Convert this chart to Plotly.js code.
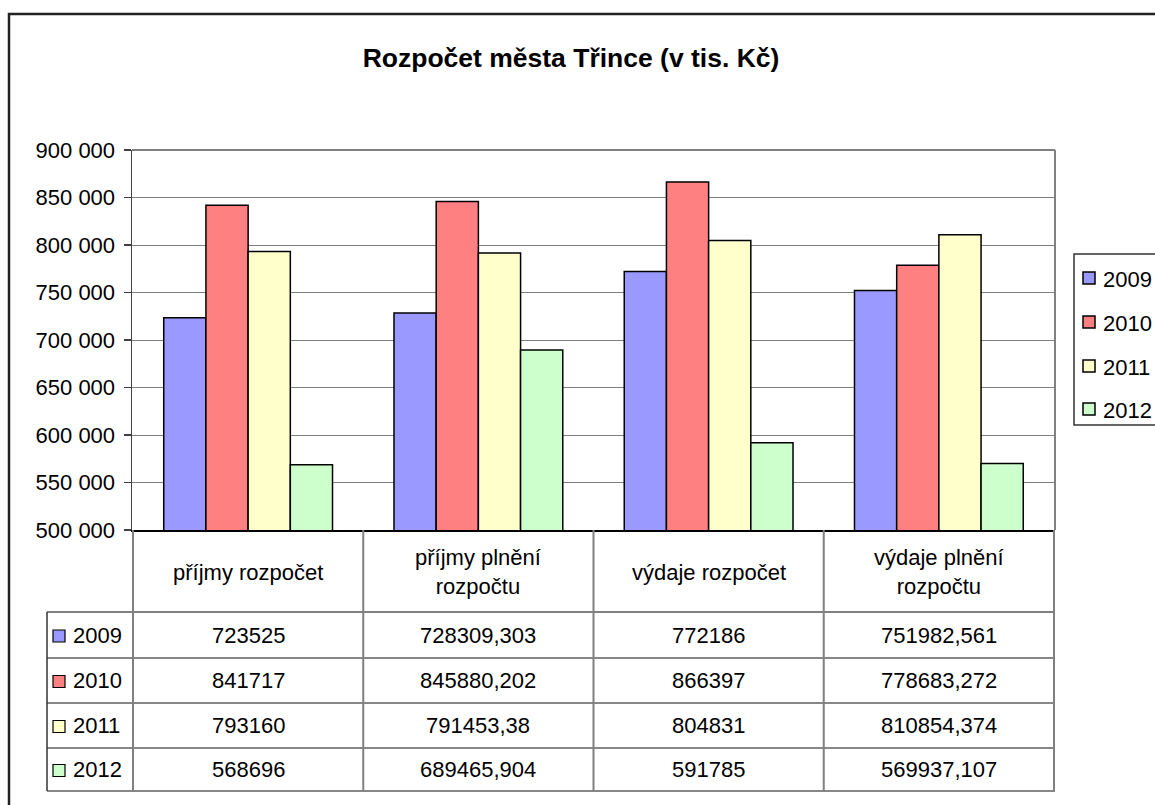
<!DOCTYPE html>
<html>
<head>
<meta charset="utf-8">
<script src="https://cdn.plot.ly/plotly-3.0.1.min.js"></script>
<style>html,body{margin:0;padding:0;background:#fff;}#chart{width:1155px;height:805px;}</style>
</head>
<body>
<div id="chart"></div>
<script>
// ---- data ----
const categories = ['příjmy rozpočet', 'příjmy plnění rozpočtu', 'výdaje rozpočet', 'výdaje plnění rozpočtu'];
const categoryLabels = ['příjmy rozpočet', 'příjmy plnění<br>rozpočtu', 'výdaje rozpočet', 'výdaje plnění<br>rozpočtu'];
const years = ['2009', '2010', '2011', '2012'];
const values2009 = [723525, 728309.303, 772186, 751982.561];
const values2010 = [841717, 845880.202, 866397, 778683.272];
const values2011 = [793160, 791453.38, 804831, 810854.374];
const values2012 = [568696, 689465.904, 591785, 569937.107];
const seriesValues = [values2009, values2010, values2011, values2012];
const seriesColors = ['#9999FF', '#FF8080', '#FFFFCC', '#CCFFCC'];

// ---- layout helpers (pixel -> paper) ----
const L = 132, T = 150, W = 923, H = 380;
const PX = x => (x - L) / W;
const PY = y => (T + H - y) / H;
const FONT = 'Liberation Sans, Arial, sans-serif';
const FS = 22;
const fmt = v => String(v).replace('.', ',');

const traces = seriesValues.map((vals, i) => ({
  type: 'bar',
  name: years[i],
  x: categories,
  y: vals,
  marker: {color: seriesColors[i], line: {color: '#000', width: 1.5}},
  hoverinfo: 'y+name'
}));

const shapes = [];
const annotations = [];
// outer chart border
shapes.push({type: 'rect', xref: 'paper', yref: 'paper', x0: PX(9), x1: PX(1175), y0: PY(830), y1: PY(14),
  line: {color: '#222', width: 2.5}, layer: 'below'});
// plot area top & right border
shapes.push({type: 'line', xref: 'paper', yref: 'paper', x0: 0, x1: 1, y0: 1, y1: 1, line: {color: '#808080', width: 2}});
shapes.push({type: 'line', xref: 'paper', yref: 'paper', x0: 1, x1: 1, y0: 0, y1: 1, line: {color: '#808080', width: 2}});

// table row boundaries
const rowLines = [612, 658, 703, 748, 791];
const rowCenters = [635, 680.5, 725.5, 769.5];
rowLines.forEach((y, i) => {
  shapes.push({type: 'line', xref: 'paper', yref: 'paper', x0: PX(47), x1: 1, y0: PY(y), y1: PY(y),
    line: {color: i === 0 ? '#808080' : '#111', width: i === 0 ? 2 : 1.2}});
});
// left column border
shapes.push({type: 'line', xref: 'paper', yref: 'paper', x0: PX(47), x1: PX(47), y0: PY(612), y1: PY(791), line: {color: '#333', width: 1.5}});
// column separators at category boundaries
for (let k = 0; k <= categories.length; k++) {
  shapes.push({type: 'line', xref: 'x', yref: 'paper', x0: k - 0.5, x1: k - 0.5, y0: PY(791), y1: 0,
    line: {color: '#808080', width: 2}});
}
// category header texts
categories.forEach((c, k) => {
  annotations.push({xref: 'x', yref: 'paper', x: k, y: PY(572), text: categoryLabels[k], showarrow: false,
    xanchor: 'center', yanchor: 'middle', font: {family: FONT, size: FS, color: '#000'}});
});
// rows: legend key, year, values
years.forEach((yr, i) => {
  const yc = rowCenters[i];
  shapes.push({type: 'rect', xref: 'paper', yref: 'paper', x0: PX(53), x1: PX(65), y0: PY(yc + 7), y1: PY(yc - 5),
    fillcolor: seriesColors[i], line: {color: '#000', width: 1.2}});
  annotations.push({xref: 'paper', yref: 'paper', x: PX(71), y: PY(yc), text: yr, showarrow: false,
    xanchor: 'left', yanchor: 'middle', font: {family: FONT, size: FS, color: '#000'}});
  seriesValues[i].forEach((v, k) => {
    annotations.push({xref: 'x', yref: 'paper', x: k, y: PY(yc), text: fmt(v), showarrow: false,
      xanchor: 'center', yanchor: 'middle', font: {family: FONT, size: FS, color: '#000'}});
  });
});

// legend (right side, partly beyond the canvas edge as in the reference)
shapes.push({type: 'rect', xref: 'paper', yref: 'paper', x0: PX(1074), x1: PX(1180), y0: PY(425), y1: PY(254),
  fillcolor: '#fff', line: {color: '#333', width: 1.5}});
const legendCenters = [278, 322, 366, 409];
years.forEach((yr, i) => {
  const yc = legendCenters[i];
  shapes.push({type: 'rect', xref: 'paper', yref: 'paper', x0: PX(1083), x1: PX(1095), y0: PY(yc + 6), y1: PY(yc - 6),
    fillcolor: seriesColors[i], line: {color: '#000', width: 1.5}});
  annotations.push({xref: 'paper', yref: 'paper', x: PX(1101), y: PY(yc + 1), text: yr, showarrow: false,
    xanchor: 'left', yanchor: 'middle', font: {family: FONT, size: FS, color: '#000'}});
});

const layout = {
  width: 1155, height: 805,
  margin: {l: L, r: 1155 - L - W, t: T, b: 805 - T - H, pad: 0, autoexpand: false},
  paper_bgcolor: '#fff', plot_bgcolor: '#fff',
  separators: ', ',
  title: {text: 'Rozpočet města Třince (v tis. Kč)', x: 571 / 1155, xref: 'container', xanchor: 'center',
    y: 1 - 58 / 805, yref: 'container', yanchor: 'middle',
    font: {family: FONT, size: 26.5, color: '#000', weight: 'bold'}},
  barmode: 'group', bargap: 0.267, bargroupgap: 0,
  xaxis: {type: 'category', showticklabels: false, ticks: '', showgrid: false, zeroline: false,
    showline: true, linecolor: '#000', linewidth: 1.5, fixedrange: true},
  yaxis: {range: [500000, 900000], dtick: 50000, tick0: 500000, tickformat: ',d',
    showgrid: true, gridcolor: '#808080', gridwidth: 1, zeroline: false,
    showline: true, linecolor: '#404040', linewidth: 1.5,
    ticks: 'outside', ticklen: 7, tickcolor: '#404040', tickwidth: 1.5, ticklabelstandoff: 4,
    tickfont: {family: FONT, size: FS, color: '#000'}, fixedrange: true},
  showlegend: false,
  shapes: shapes,
  annotations: annotations
};

Plotly.newPlot('chart', traces, layout, {displayModeBar: false, staticPlot: true});
</script>
</body>
</html>
